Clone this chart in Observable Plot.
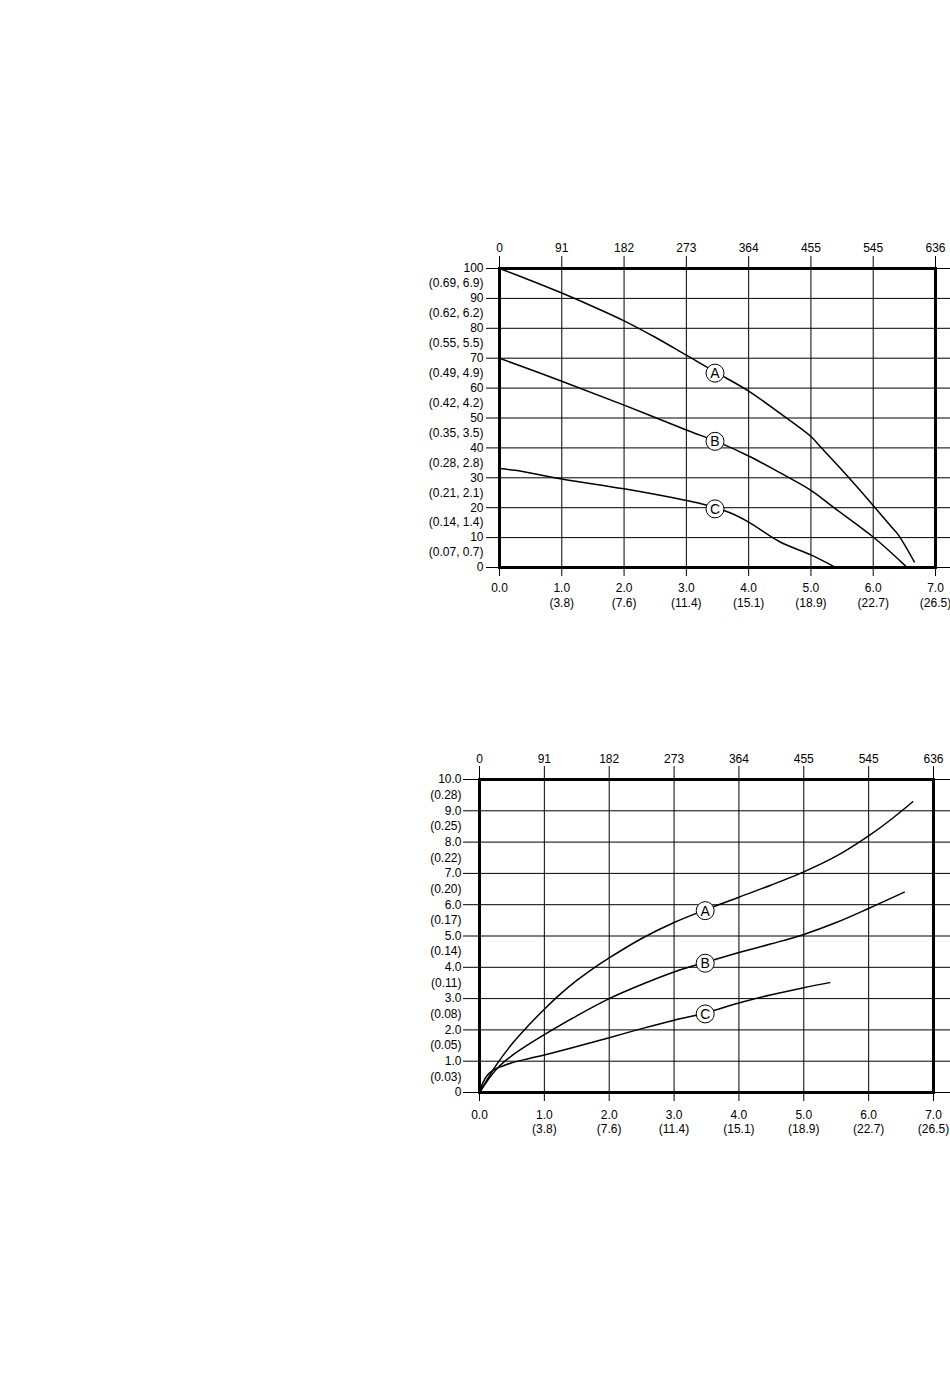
<!DOCTYPE html>
<html>
<head>
<meta charset="utf-8">
<script src="https://cdn.jsdelivr.net/npm/d3@7"></script>
<script src="https://cdn.jsdelivr.net/npm/@observablehq/plot@0.6"></script>
<style>
  html, body { margin: 0; padding: 0; background: white; }
  body { width: 950px; height: 1397px; position: relative; overflow: hidden; }
  .chart { position: absolute; left: 0; }
  #top { top: 0; }
  #bottom { top: 700px; }
</style>
</head>
<body>
<div id="top" class="chart"></div>
<div id="bottom" class="chart"></div>
<script>
// ---- shared x-axis ticks ----
const xTicks = [0, 1, 2, 3, 4, 5, 6, 7];
const xTopLabels = ["0", "91", "182", "273", "364", "455", "545", "636"];
const xMainLabels = ["0.0", "1.0", "2.0", "3.0", "4.0", "5.0", "6.0", "7.0"];
const xSubLabels = ["", "(3.8)", "(7.6)", "(11.4)", "(15.1)", "(18.9)", "(22.7)", "(26.5)"];

// ---- top chart ticks ----
const topYTicks = [0, 10, 20, 30, 40, 50, 60, 70, 80, 90, 100];
const topYLabels = ["0", "10", "20", "30", "40", "50", "60", "70", "80", "90", "100"];
const topYHalf = [5, 15, 25, 35, 45, 55, 65, 75, 85, 95];
const topYHalfLabels = ["(0.07, 0.7)", "(0.14, 1.4)", "(0.21, 2.1)", "(0.28, 2.8)", "(0.35, 3.5)",
  "(0.42, 4.2)", "(0.49, 4.9)", "(0.55, 5.5)", "(0.62, 6.2)", "(0.69, 6.9)"];

// ---- top chart curves ----
const topA_x = [0, 0.5, 1, 1.5, 2, 2.5, 3, 3.5, 4, 4.5, 5, 5.16, 5.61, 6.03, 6.29, 6.4, 6.66];
const topA_y = [100, 96, 91.8, 87.3, 82.5, 77, 71, 65, 59, 51.6, 43.8, 40.2, 30, 20, 13.6, 11, 1.9];
const topB_x = [0, 1, 2, 3, 3.5, 4, 4.5, 5, 5.37, 6, 6.53];
const topB_y = [70, 62.3, 54.3, 46, 42, 37.3, 31.7, 25.8, 20, 10.2, 0.3];
const topC_x = [0, 0.25, 1, 2, 3, 3.3, 3.7, 4, 4.5, 5, 5.37];
const topC_y = [33.1, 32.5, 29.6, 26.3, 22.4, 21, 18.3, 15.2, 8.6, 4.2, 0.3];
const topLabelKeys = ["A", "B", "C"];
const topLabelX = [3.46, 3.46, 3.46];
const topLabelY = [65.0, 42.2, 19.6];

// ---- bottom chart ticks ----
const botYTicks = [0, 1, 2, 3, 4, 5, 6, 7, 8, 9, 10];
const botYLabels = ["0", "1.0", "2.0", "3.0", "4.0", "5.0", "6.0", "7.0", "8.0", "9.0", "10.0"];
const botYHalf = [0.5, 1.5, 2.5, 3.5, 4.5, 5.5, 6.5, 7.5, 8.5, 9.5];
const botYHalfLabels = ["(0.03)", "(0.05)", "(0.08)", "(0.11)", "(0.14)", "(0.17)", "(0.20)", "(0.22)", "(0.25)", "(0.28)"];

// ---- bottom chart curves ----
const botA_x = [0, 0.25, 0.5, 0.75, 1, 1.25, 1.5, 1.75, 2, 2.5, 3, 3.5, 4, 4.5, 5, 5.5, 6, 6.3, 6.68];
const botA_y = [0, 0.85, 1.55, 2.13, 2.66, 3.15, 3.58, 3.96, 4.3, 4.92, 5.43, 5.85, 6.24, 6.63, 7.05, 7.55, 8.2, 8.65, 9.29];
const botB_x = [0, 0.25, 0.5, 0.75, 1, 1.5, 2, 2.5, 3, 3.5, 4, 4.5, 5, 5.5, 6, 6.55];
const botB_y = [0, 0.72, 1.18, 1.53, 1.85, 2.45, 3.0, 3.45, 3.85, 4.17, 4.47, 4.75, 5.05, 5.43, 5.88, 6.4];
const botC_x = [0, 0.05, 0.12, 0.2, 0.35, 0.5, 0.75, 1, 1.5, 2, 2.5, 3, 3.5, 4, 4.5, 5, 5.4];
const botC_y = [0, 0.3, 0.55, 0.7, 0.84, 0.95, 1.08, 1.2, 1.47, 1.75, 2.04, 2.31, 2.55, 2.86, 3.12, 3.35, 3.51];
const botLabelKeys = ["A", "B", "C"];
const botLabelX = [3.48, 3.48, 3.48];
const botLabelY = [5.81, 4.13, 2.51];

// ---- helpers ----
const zip = (xs, ys) => xs.map((x, i) => ({x, y: ys[i]}));
const lookup = (keys, labels) => { const m = new Map(keys.map((k, i) => [k, labels[i]])); return d => m.get(d) ?? ""; };
const FONT = "'Liberation Sans', Arial, Helvetica, sans-serif";

function chart(cfg) {
  const labels = cfg.labelKeys.map((k, i) => ({k, x: cfg.labelX[i], y: cfg.labelY[i]}));
  const series = cfg.curves.map(([xs, ys]) => zip(xs, ys));
  return Plot.plot({
    width: 950,
    height: cfg.height,
    marginLeft: cfg.ml, marginRight: cfg.mr, marginTop: cfg.mt, marginBottom: cfg.mb,
    x: {domain: [0, 7]},
    y: {domain: cfg.yDomain},
    style: {fontFamily: FONT, fontSize: "12px", color: "black", background: "white", overflow: "visible"},
    marks: [
      Plot.gridX(xTicks, {stroke: "black", strokeOpacity: 1, strokeWidth: 1}),
      Plot.gridY(cfg.yTicks, {stroke: "black", strokeOpacity: 1, strokeWidth: 1}),
      Plot.axisX({anchor: "top", ticks: xTicks, tickFormat: lookup(xTicks, xTopLabels),
        tickSize: cfg.topTick, tickPadding: cfg.topPad, label: null, stroke: "black", strokeOpacity: 1}),
      Plot.axisX({anchor: "bottom", ticks: xTicks, tickFormat: lookup(xTicks, xMainLabels),
        tickSize: 9, tickPadding: cfg.botPad, label: null, stroke: "black", strokeOpacity: 1}),
      Plot.axisX({anchor: "bottom", ticks: xTicks, tickFormat: lookup(xTicks, xSubLabels),
        tickSize: 0, tickPadding: cfg.botPad2, label: null}),
      Plot.axisY({anchor: "left", ticks: cfg.yTicks, tickFormat: lookup(cfg.yTicks, cfg.yLabels),
        tickSize: cfg.leftTick, tickPadding: cfg.leftPad, label: null, stroke: "black", strokeOpacity: 1}),
      Plot.axisY({anchor: "left", ticks: cfg.yHalf, tickFormat: lookup(cfg.yHalf, cfg.yHalfLabels),
        tickSize: 0, tickPadding: cfg.leftTick + cfg.leftPad, label: null}),
      Plot.axisY({anchor: "right", ticks: cfg.yTicks, tickFormat: () => "",
        tickSize: 16, tickPadding: 0, label: null, stroke: "black", strokeOpacity: 1}),
      ...series.map(s => Plot.line(s, {x: "x", y: "y", stroke: "black", strokeWidth: 1.5, curve: "catmull-rom"})),
      Plot.frame({stroke: "black", strokeWidth: 3}),
      Plot.dot(labels, {x: "x", y: "y", r: 9, fill: "white", stroke: "black", strokeWidth: 1}),
      Plot.text(labels, {x: "x", y: "y", text: "k", fontSize: 14, fill: "black", dy: 0.5})
    ]
  });
}

document.getElementById("top").append(chart({
  height: 640, ml: 499, mr: 15, mt: 268, mb: 73,
  yDomain: [0, 100], yTicks: topYTicks, yLabels: topYLabels, yHalf: topYHalf, yHalfLabels: topYHalfLabels,
  topTick: 13, topPad: 4, botPad: 7, botPad2: 31, leftTick: 13, leftPad: 3,
  curves: [[topA_x, topA_y], [topB_x, topB_y], [topC_x, topC_y]],
  labelKeys: topLabelKeys, labelX: topLabelX, labelY: topLabelY
}));

document.getElementById("bottom").append(chart({
  height: 460, ml: 479, mr: 17, mt: 79, mb: 68,
  yDomain: [0, 10], yTicks: botYTicks, yLabels: botYLabels, yHalf: botYHalf, yHalfLabels: botYHalfLabels,
  topTick: 14, topPad: 3, botPad: 9, botPad2: 32, leftTick: 16, leftPad: 2,
  curves: [[botA_x, botA_y], [botB_x, botB_y], [botC_x, botC_y]],
  labelKeys: botLabelKeys, labelX: botLabelX, labelY: botLabelY
}));
</script>
</body>
</html>
